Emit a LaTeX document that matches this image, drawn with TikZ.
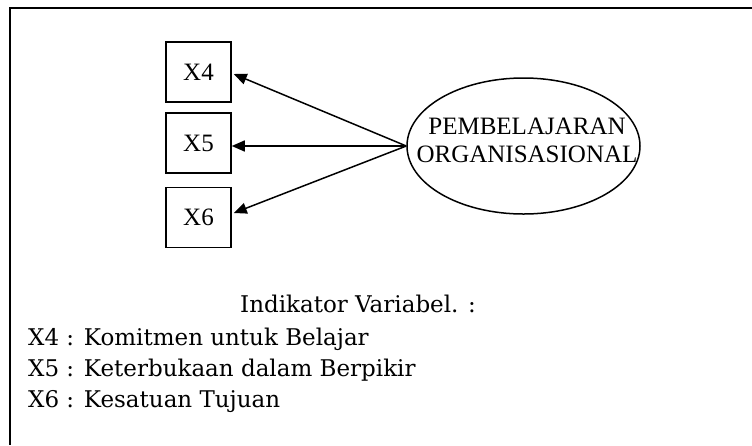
\documentclass[tikz,border=0pt]{standalone}
\usepackage{fontspec}
\setmainfont{Liberation Serif}
\newfontfamily\legendfont{DejaVu Serif}
\usetikzlibrary{arrows.meta,shapes.geometric}

\tikzset{
  indicator/.style={draw, line width=1.5pt, minimum width=65pt, minimum height=60pt,
                    inner sep=0pt, font=\fontsize{25}{25}\selectfont},
  latent/.style={draw, ellipse, line width=1.5pt, minimum width=233pt, minimum height=136pt,
                 inner sep=0pt},
  loading/.style={line width=1.5pt, -{Triangle[length=13pt,width=11pt]}},
  legend/.style={anchor=base west, inner sep=0pt, font=\legendfont\fontsize{23}{23}\selectfont},
  frame/.style={line width=2pt}
}

\begin{document}
\begin{tikzpicture}[x=1pt, y=-1pt]
  \useasboundingbox (0,0) rectangle (752,445);

  % open frame: top and left rules only
  \coordinate (fTL) at (10,8);
  \coordinate (fTR) at (752,8);
  \coordinate (fBL) at (10,445);
  \draw[frame] (fTR) -- (fTL) -- (fBL);

  % indicator boxes
  \node[indicator] (x4) at (198.5,72) {X4};
  \node[indicator] (x5) at (198.5,143) {X5};
  \node[indicator] (x6) at (198.5,217.5) {X6};

  % latent construct
  \node[latent] (pe) at (523.5,146) {};
  \node[font=\fontsize{25}{28}\selectfont, align=center, inner sep=0pt] (pelbl) at (527,140.5)
    {PEMBELAJARAN\\ORGANISASIONAL};

  % loadings
  \draw[loading] (pe.west) -- ([xshift=2pt,yshift=-2pt]x4.east);
  \draw[loading] (pe.west) -- (x5.east |- pe.west);
  \draw[loading] (pe.west) -- ([xshift=2pt,yshift=4.5pt]x6.east);

  % legend
  \node[legend] (lt) at (240,312) {Indikator Variabel. :};
  \node[legend] (l4) at (28,345) {X4 : Komitmen untuk Belajar};
  \node[legend] (l5) at (28,376) {X5 : Keterbukaan dalam Berpikir};
  \node[legend] (l6) at (28,407) {X6 : Kesatuan Tujuan};
\end{tikzpicture}
\end{document}
